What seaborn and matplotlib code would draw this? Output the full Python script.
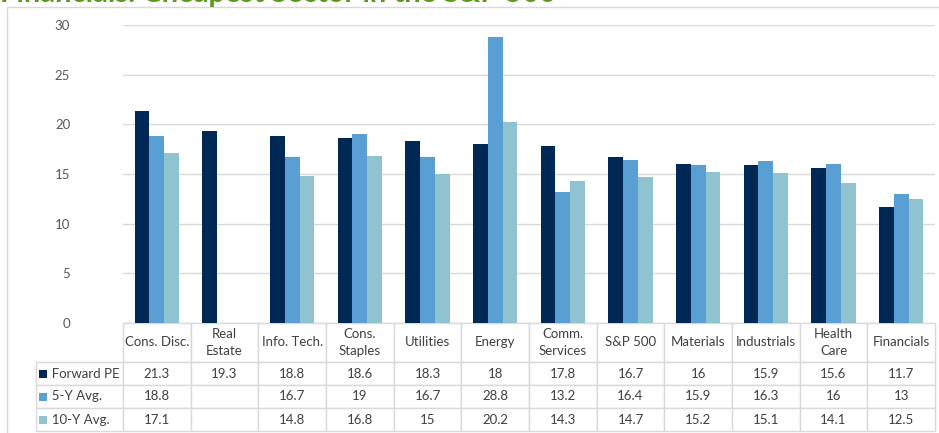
import matplotlib.pyplot as plt
import matplotlib.patches as mpatches
import pandas as pd
import numpy as np
import seaborn as sns

sectors = ["Cons. Disc.", "Real\nEstate", "Info. Tech.", "Cons.\nStaples", "Utilities", "Energy",
           "Comm.\nServices", "S&P 500", "Materials", "Industrials", "Health\nCare", "Financials"]
series_names = ["Forward PE", "5-Y Avg.", "10-Y Avg."]
forward_pe = [21.3, 19.3, 18.8, 18.6, 18.3, 18, 17.8, 16.7, 16, 15.9, 15.6, 11.7]
avg_5y = [18.8, np.nan, 16.7, 19, 16.7, 28.8, 13.2, 16.4, 15.9, 16.3, 16, 13]
avg_10y = [17.1, np.nan, 14.8, 16.8, 15, 20.2, 14.3, 14.7, 15.2, 15.1, 14.1, 12.5]
colors = ["#002855", "#5a9fd4", "#8fc3cf"]

df = pd.DataFrame({
    "sector": sectors * 3,
    "series": sum([[s] * len(sectors) for s in series_names], []),
    "value": forward_pe + avg_5y + avg_10y,
})

sns.set_theme(style="white")
plt.rcParams["font.family"] = ["Lato", "DejaVu Sans"]

W, H = 939, 433
fig = plt.figure(figsize=(W / 100, H / 100), dpi=100)
ax_l, ax_r, ax_t, ax_b = 123, 935, 25, 323
ax = fig.add_axes([ax_l / W, 1 - ax_b / H, (ax_r - ax_l) / W, (ax_b - ax_t) / H])

sns.barplot(data=df, x="sector", y="value", hue="series", hue_order=series_names,
            order=sectors, palette=colors, width=0.66, gap=0, saturation=1,
            linewidth=0, legend=False, ax=ax)

ax.set_ylim(0, 30)
ax.set_xlim(-0.5, len(sectors) - 0.5)
ax.set_yticks(range(0, 31, 5))
ax.yaxis.grid(True, color="#d9d9d9", linewidth=1)
ax.set_axisbelow(True)
for sp in ax.spines.values():
    sp.set_visible(False)
ax.set_xticks([])
ax.set_xlabel("")
ax.set_ylabel("")
ax.tick_params(axis="y", length=0, pad=38, labelsize=9.5, labelcolor="#595959")

# data table under the chart
aw, ah = ax_r - ax_l, ax_b - ax_t
tab_l, tab_b = 36, 431
cell_text = [[""] + sectors]
for name, vals in zip(series_names, [forward_pe, avg_5y, avg_10y]):
    cell_text.append(["  " + name] + ["" if np.isnan(v) else f"{v:g}" for v in vals])
tbl = ax.table(cellText=cell_text, cellLoc="center",
               bbox=[(tab_l - ax_l) / aw, -(tab_b - ax_b) / ah, (ax_r - tab_l) / aw, (tab_b - ax_b) / ah])
tbl.auto_set_font_size(False)
tbl.set_fontsize(9.5)
for (r, c), cell in tbl.get_celld().items():
    cell.set_edgecolor("#d9d9d9")
    cell.set_linewidth(1)
    cell.get_text().set_color("#404040")
    cell.set_width(87 if c == 0 else aw / len(sectors))
    cell.set_height(39 if r == 0 else 23)
    if r == 0:
        cell.get_text().set_linespacing(1.45)
    if r == 0 and c == 0:
        cell.visible_edges = "open"
    if c == 0 and r > 0:
        cell.get_text().set_ha("left")
        cell._loc = "left"

# legend keys in the row labels
for i, col in enumerate(colors):
    yc = ax_b + 39 + 23 * i + 11.5
    ax.add_patch(mpatches.Rectangle(((39 - ax_l) / aw, -(yc + 4 - ax_b) / ah), 8 / aw, 8 / ah,
                                    transform=ax.transAxes, facecolor=col, edgecolor="none",
                                    clip_on=False))

# outer frame and title (cut off at the top, as in the source)
fig.patches.append(mpatches.Rectangle((7 / W, -0.1), 1.2, 1 - 7 / H + 0.1, transform=fig.transFigure,
                                      fill=False, edgecolor="#d9d9d9", linewidth=1))
fig.text(0, 1 - 2 / H, "Financials: Cheapest Sector in the S&P 500", color="#5a9a1a",
         fontsize=21, fontweight="bold", va="baseline", ha="left")

fig.savefig("out.png", dpi=100)
